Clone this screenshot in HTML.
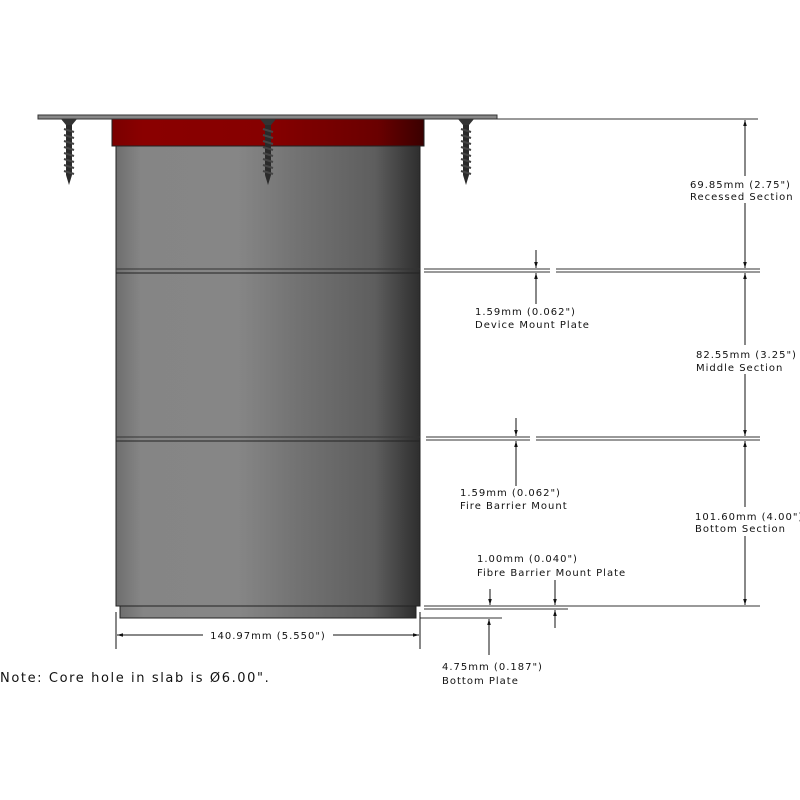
<!DOCTYPE html>
<html><head><meta charset="utf-8"><style>
html,body{margin:0;padding:0;background:#fff;width:800px;height:800px;overflow:hidden}
text{font-family:"DejaVu Sans","Liberation Sans",sans-serif;font-size:10px;letter-spacing:1.0px;fill:#111}
</style></head><body>
<svg width="800" height="800" viewBox="0 0 800 800" xmlns="http://www.w3.org/2000/svg">
<defs>
<linearGradient id="cyl" x1="0" x2="1" y1="0" y2="0">
<stop offset="0" stop-color="#6e6e6e"/><stop offset="0.08" stop-color="#858585"/><stop offset="0.4" stop-color="#868686"/><stop offset="0.6" stop-color="#727272"/><stop offset="0.85" stop-color="#5e5e5e"/><stop offset="1" stop-color="#2e2e2e"/>
</linearGradient>
<linearGradient id="red" x1="0" x2="1" y1="0" y2="0">
<stop offset="0" stop-color="#7a0000"/><stop offset="0.1" stop-color="#8a0000"/><stop offset="0.5" stop-color="#860000"/><stop offset="0.85" stop-color="#6a0000"/><stop offset="1" stop-color="#3a0000"/>
</linearGradient>
<marker id="ah" viewBox="0 0 10 10" refX="10" refY="5" markerWidth="6" markerHeight="6" orient="auto-start-reverse"><path d="M0,2 L10,5 L0,8 z" fill="#111"/></marker>
<g id="screw">
<path d="M-8,0 L8,0 L3,6 L-3,6 Z" fill="#333"/>
<rect x="-3" y="6" width="6" height="50" fill="#2a2a2a"/>
<path d="M-3,56 L3,56 L0,66 Z" fill="#2a2a2a"/>
<path d="M-5,10 L5,13 M-5,16 L5,19 M-5,22 L5,25 M-5,28 L5,31 M-5,34 L5,37 M-5,40 L5,43 M-5,46 L5,49 M-5,52 L5,55" stroke="#444" stroke-width="2"/>
</g>
</defs>
<rect x="116" y="146" width="304" height="460" fill="url(#cyl)" stroke="#222" stroke-width="1"/>
<rect x="120" y="606" width="296" height="12" fill="url(#cyl)" stroke="#222" stroke-width="1"/>
<line x1="116" y1="269" x2="420" y2="269" stroke="#333"/><line x1="116" y1="273" x2="420" y2="273" stroke="#222"/>
<line x1="116" y1="437" x2="420" y2="437" stroke="#333"/><line x1="116" y1="441" x2="420" y2="441" stroke="#222"/>
<rect x="112" y="119" width="312" height="27" fill="url(#red)" stroke="#222" stroke-width="1"/>
<rect x="38" y="115" width="459" height="4" fill="#888" stroke="#333" stroke-width="1"/>
<use href="#screw" x="69" y="119"/>
<use href="#screw" x="268" y="119"/>
<use href="#screw" x="466" y="119"/>
<g stroke="#333" stroke-width="1" fill="none">
<line x1="497" y1="119" x2="758" y2="119"/>
<line x1="424" y1="269" x2="550" y2="269"/><line x1="424" y1="272" x2="550" y2="272"/>
<line x1="556" y1="269" x2="760" y2="269"/><line x1="556" y1="272" x2="760" y2="272"/>
<line x1="426" y1="437" x2="530" y2="437"/><line x1="426" y1="440" x2="530" y2="440"/>
<line x1="536" y1="437" x2="760" y2="437"/><line x1="536" y1="440" x2="760" y2="440"/>
<line x1="424" y1="606" x2="760" y2="606"/><line x1="424" y1="609" x2="568" y2="609"/>
<line x1="420" y1="618" x2="502" y2="618"/>
</g>
<g stroke="#111" stroke-width="1">
<line x1="745" y1="176" x2="745" y2="120" marker-end="url(#ah)"/>
<line x1="745" y1="203" x2="745" y2="268" marker-end="url(#ah)"/>
<line x1="745" y1="345" x2="745" y2="273" marker-end="url(#ah)"/>
<line x1="745" y1="374" x2="745" y2="436" marker-end="url(#ah)"/>
<line x1="745" y1="507" x2="745" y2="441" marker-end="url(#ah)"/>
<line x1="745" y1="536" x2="745" y2="605" marker-end="url(#ah)"/>
<line x1="536" y1="250" x2="536" y2="268" marker-end="url(#ah)"/>
<line x1="536" y1="304" x2="536" y2="273" marker-end="url(#ah)"/>
<line x1="516" y1="418" x2="516" y2="436" marker-end="url(#ah)"/>
<line x1="516" y1="486" x2="516" y2="441" marker-end="url(#ah)"/>
<line x1="555" y1="580" x2="555" y2="605" marker-end="url(#ah)"/>
<line x1="555" y1="628" x2="555" y2="610" marker-end="url(#ah)"/>
<line x1="490" y1="589" x2="490" y2="605" marker-end="url(#ah)"/>
<line x1="489" y1="655" x2="489" y2="619" marker-end="url(#ah)"/>
<line x1="116" y1="612" x2="116" y2="649"/>
<line x1="420" y1="612" x2="420" y2="649"/>
<line x1="203" y1="635" x2="117" y2="635" marker-end="url(#ah)"/>
<line x1="333" y1="635" x2="419" y2="635" marker-end="url(#ah)"/>
</g>
<text x="690" y="188">69.85mm (2.75")</text>
<text x="690" y="200">Recessed Section</text>
<text x="696" y="358">82.55mm (3.25")</text>
<text x="696" y="371">Middle Section</text>
<text x="695" y="520">101.60mm (4.00")</text>
<text x="695" y="532">Bottom Section</text>
<text x="475" y="315">1.59mm (0.062")</text>
<text x="475" y="328">Device Mount Plate</text>
<text x="460" y="496">1.59mm (0.062")</text>
<text x="460" y="509">Fire Barrier Mount</text>
<text x="477" y="562">1.00mm (0.040")</text>
<text x="477" y="576">Fibre Barrier Mount Plate</text>
<text x="442" y="670">4.75mm (0.187")</text>
<text x="442" y="684">Bottom Plate</text>
<rect x="206" y="628" width="124" height="14" fill="#fff"/>
<text x="268" y="639" text-anchor="middle">140.97mm (5.550")</text>
<text x="0" y="682" style="font-size:13px;letter-spacing:1.6px">Note: Core hole in slab is Ø6.00".</text>
</svg>
</body></html>
